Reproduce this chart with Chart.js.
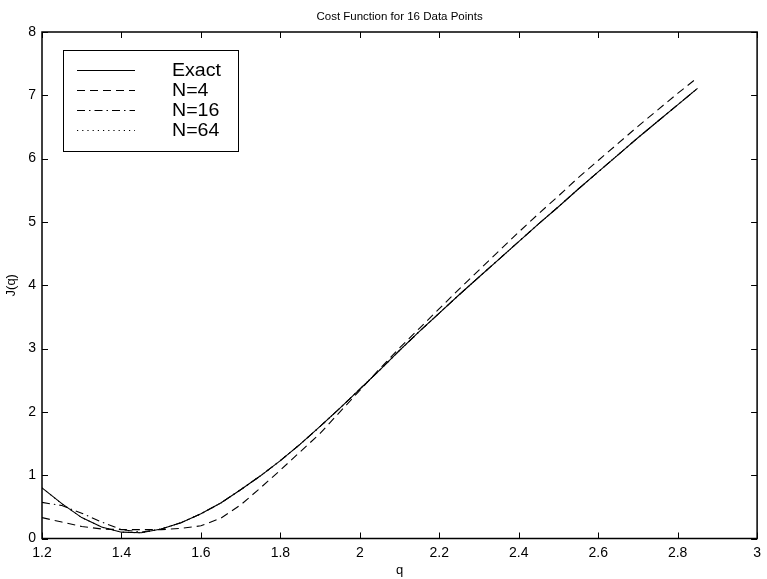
<!DOCTYPE html>
<html>
<head>
<meta charset="utf-8">
<script src="https://cdn.jsdelivr.net/npm/chart.js@4.4.1/dist/chart.umd.min.js"></script>
<style>
  html, body { margin: 0; padding: 0; background: #fff; }
  #wrap { width: 767px; height: 579px; }
</style>
</head>
<body>
<div id="wrap"><canvas id="c" width="767" height="579"></canvas></div>
<script>
// Parameter grid and cost values J(q)
const qValues = [1.20, 1.25, 1.30, 1.35, 1.40, 1.45, 1.50, 1.55, 1.60, 1.65, 1.70, 1.75,
                 1.80, 1.85, 1.90, 1.95, 2.00, 2.05, 2.10, 2.15, 2.20, 2.25, 2.30, 2.35,
                 2.40, 2.45, 2.50, 2.55, 2.60, 2.65, 2.70, 2.75, 2.80, 2.85];
const exactJ = [0.80, 0.55, 0.33, 0.18, 0.10, 0.09, 0.15, 0.25, 0.39, 0.56, 0.77, 0.99,
                1.23, 1.49, 1.77, 2.06, 2.36, 2.66, 2.97, 3.27, 3.56, 3.85, 4.13, 4.41,
                4.69, 4.97, 5.24, 5.52, 5.79, 6.06, 6.33, 6.59, 6.85, 7.11];
const n4J    = [0.33, 0.26, 0.19, 0.15, 0.14, 0.14, 0.14, 0.16, 0.20, 0.32, 0.53, 0.80,
                1.08, 1.37, 1.66, 2.00, 2.34, 2.68, 3.01, 3.32, 3.63, 3.94, 4.24, 4.54,
                4.84, 5.13, 5.41, 5.70, 5.97, 6.24, 6.51, 6.77, 7.03, 7.28];
const n16J   = [0.57, 0.52, 0.40, 0.26, 0.14, 0.10, 0.15, 0.25, 0.39, 0.56, 0.77, 0.99,
                1.23, 1.49, 1.77, 2.06, 2.36, 2.66, 2.97, 3.27, 3.56, 3.85, 4.13, 4.41,
                4.69, 4.97, 5.24, 5.52, 5.79, 6.06, 6.33, 6.59, 6.85, 7.11];
const n64J   = [0.80, 0.55, 0.33, 0.18, 0.10, 0.09, 0.15, 0.25, 0.39, 0.56, 0.77, 0.99,
                1.23, 1.49, 1.77, 2.06, 2.36, 2.66, 2.97, 3.27, 3.56, 3.85, 4.13, 4.41,
                4.69, 4.97, 5.24, 5.52, 5.79, 6.06, 6.33, 6.59, 6.85, 7.11];

const seriesNames = ['Exact', 'N=4', 'N=16', 'N=64'];
const xTickValues = [1.2, 1.4, 1.6, 1.8, 2, 2.2, 2.4, 2.6, 2.8, 3];
const yTickValues = [0, 1, 2, 3, 4, 5, 6, 7, 8];
const titleText = 'Cost Function for 16 Data Points';

const FONT = '"Liberation Sans", Arial, Helvetica, sans-serif';

function toPoints(ys) {
  return qValues.map((q, i) => ({ x: q, y: ys[i] }));
}

const dashStyles = [[], [8, 5], [8, 4, 1.5, 4], [1.2, 4]];
const seriesValues = [exactJ, n4J, n16J, n64J];

const datasets = seriesNames.map((name, i) => ({
  label: name,
  data: toPoints(seriesValues[i]),
  borderColor: '#000',
  borderWidth: 1.1,
  borderDash: dashStyles[i],
  pointRadius: 0,
  fill: false,
  tension: 0
}));

// Title centred over the plotting area
const titlePlugin = {
  id: 'axesTitle',
  afterDraw(chart) {
    const { ctx, chartArea: a } = chart;
    ctx.save();
    ctx.font = '11.5px ' + FONT;
    ctx.fillStyle = '#000';
    ctx.textAlign = 'center';
    ctx.textBaseline = 'alphabetic';
    ctx.fillText(titleText, (a.left + a.right) / 2, 19.5);
    ctx.restore();
  }
};

// Box around the axes with inward tick marks on all four sides
const boxPlugin = {
  id: 'axesBox',
  afterDatasetsDraw(chart) {
    const { ctx, chartArea: a, scales } = chart;
    const len = 6;
    ctx.save();
    ctx.strokeStyle = '#000';
    ctx.lineWidth = 1;
    ctx.beginPath();
    scales.x.ticks.forEach((t, i) => {
      const px = Math.round(scales.x.getPixelForTick(i)) + 0.5;
      ctx.moveTo(px, a.bottom); ctx.lineTo(px, a.bottom - len);
      ctx.moveTo(px, a.top); ctx.lineTo(px, a.top + len);
    });
    scales.y.ticks.forEach((t, i) => {
      const py = Math.round(scales.y.getPixelForTick(i)) + 0.5;
      ctx.moveTo(a.left, py); ctx.lineTo(a.left + len, py);
      ctx.moveTo(a.right, py); ctx.lineTo(a.right - len, py);
    });
    ctx.stroke();
    ctx.lineWidth = 1.5;
    ctx.strokeRect(a.left, a.top, a.right - a.left, a.bottom - a.top);
    ctx.restore();
  }
};

// Framed legend in the upper-left corner of the plot
const legendPlugin = {
  id: 'boxLegend',
  afterDatasetsDraw(chart) {
    const { ctx } = chart;
    const box = { x: 63, y: 50, w: 175, h: 101 };
    ctx.save();
    ctx.fillStyle = '#fff';
    ctx.fillRect(box.x, box.y, box.w, box.h);
    ctx.strokeStyle = '#000';
    ctx.lineWidth = 1;
    ctx.strokeRect(box.x + 0.5, box.y + 0.5, box.w, box.h);
    ctx.fillStyle = '#000';
    chart.data.datasets.forEach((ds, i) => {
      const y = 70.5 + i * 20;
      ctx.beginPath();
      ctx.setLineDash(ds.borderDash);
      ctx.lineWidth = 1;
      ctx.moveTo(77, y);
      ctx.lineTo(135, y);
      ctx.stroke();
      ctx.setLineDash([]);
      // slightly widened lettering
      ctx.save();
      ctx.translate(172, y + 1);
      ctx.scale(1.12, 1);
      ctx.font = '17.5px ' + FONT;
      ctx.textBaseline = 'middle';
      ctx.fillText(ds.label, 0, 0);
      ctx.restore();
    });
    ctx.restore();
  }
};

function fmt(v) {
  return String(Number(v.toFixed(2)));
}

new Chart(document.getElementById('c'), {
  type: 'line',
  data: { datasets },
  plugins: [boxPlugin, legendPlugin, titlePlugin],
  options: {
    responsive: false,
    animation: false,
    devicePixelRatio: 1,
    layout: { padding: { left: 0, right: 5, top: 32, bottom: 0 } },
    plugins: {
      legend: { display: false },
      tooltip: { enabled: false },
      title: { display: false }
    },
    scales: {
      x: {
        type: 'linear',
        min: 1.2,
        max: 3,
        afterBuildTicks(scale) { scale.ticks = xTickValues.map(v => ({ value: v })); },
        afterFit(scale) { scale.height = 40.5; },
        grid: { display: false, drawTicks: false },
        border: { display: false },
        ticks: {
          color: '#000',
          padding: 6,
          maxRotation: 0,
          autoSkip: false,
          font: { family: FONT, size: 14 },
          callback: v => fmt(v)
        },
        title: {
          display: true,
          text: 'q',
          color: '#000',
          font: { family: FONT, size: 13 },
          padding: { top: 0, bottom: 1 }
        }
      },
      y: {
        type: 'linear',
        min: 0,
        max: 8,
        afterBuildTicks(scale) { scale.ticks = yTickValues.map(v => ({ value: v })); },
        afterFit(scale) { scale.width = 42; },
        grid: { display: false, drawTicks: false },
        border: { display: false },
        ticks: {
          color: '#000',
          padding: 6,
          autoSkip: false,
          font: { family: FONT, size: 14 },
          callback: v => fmt(v)
        },
        title: {
          display: true,
          text: 'J(q)',
          color: '#000',
          font: { family: FONT, size: 13 },
          padding: { top: 4, bottom: 0 }
        }
      }
    }
  }
});
</script>
</body>
</html>
